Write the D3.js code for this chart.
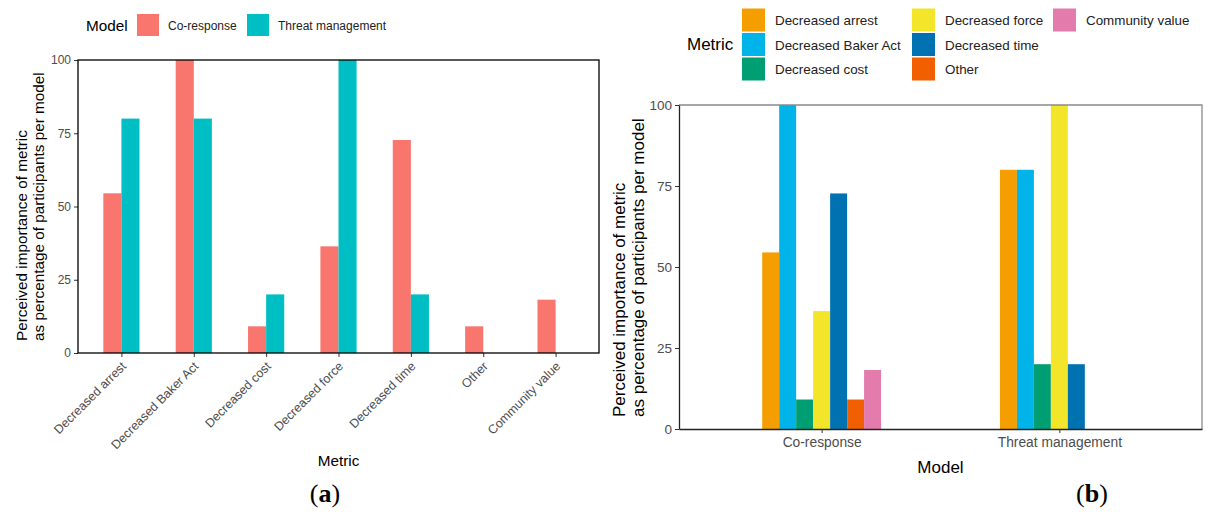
<!DOCTYPE html>
<html><head><meta charset="utf-8">
<script src="https://cdn.jsdelivr.net/npm/d3@7"></script>
<style>body{margin:0;background:#fff}svg{display:block;font-family:"Liberation Sans",Arial,sans-serif}</style>
</head><body><svg id="c" width="1212" height="516"></svg>
<script>
const metrics = ["Decreased arrest","Decreased Baker Act","Decreased cost","Decreased force","Decreased time","Other","Community value"];
const models = ["Co-response","Threat management"];
const coResponse = [54.5,100,9.1,36.4,72.7,9.1,18.2];
const threatManagement = [80,80,20,100,20,0,0];
const yTicks = [0,25,50,75,100];
const modelColors = ["#F8766D","#00BFC4"];
const metricColors = ["#F59E00","#00B4EA","#009F73","#F2E52A","#0072B2","#F25F00","#E37BAC"];

const valuesByModel = {"Co-response": coResponse, "Threat management": threatManagement};
const rows = [];
models.forEach((m) => metrics.forEach((k, i) => rows.push({model: m, metric: k, value: valuesByModel[m][i]})));

const svg = d3.select("#c");
const tickGray = "#4D4D4D";

// ---------- Panel (a) ----------
(function(){
  const L = 78, R = 599, T = 60, B = 353;
  const x = d3.scalePoint().domain(metrics).range([L, R]).padding(0.6);
  const step = x.step();
  const xi = d3.scaleBand().domain(models).range([-step*0.25, step*0.25]);
  const y = d3.scaleLinear().domain([0,100]).range([B, T]);
  const col = d3.scaleOrdinal().domain(models).range(modelColors);

  const g = svg.append("g");
  g.selectAll("rect.bar").data(rows).join("rect")
    .attr("x", d => x(d.metric) + xi(d.model))
    .attr("width", xi.bandwidth())
    .attr("y", d => y(d.value))
    .attr("height", d => B - y(d.value))
    .attr("fill", d => col(d.model));

  // y axis
  const ya = g.append("g").attr("transform", `translate(${L},0)`)
    .call(d3.axisLeft(y).tickValues(yTicks).tickSize(4).tickPadding(3));
  ya.select(".domain").remove();
  ya.selectAll("line").attr("stroke","#333");
  ya.selectAll("text").attr("fill", tickGray).style("font-size","12px");

  // x axis
  const xa = g.append("g").attr("transform", `translate(0,${B})`)
    .call(d3.axisBottom(x).tickSize(4).tickSizeOuter(0));
  xa.select(".domain").remove();
  xa.selectAll("line").attr("stroke","#333");
  xa.selectAll("text").attr("fill", tickGray).style("font-size","12.5px")
    .attr("text-anchor","end").attr("dy",null).attr("y",0)
    .attr("transform","translate(5,14) rotate(-45)");

  // border
  g.append("rect").attr("x",L).attr("y",T).attr("width",R-L).attr("height",B-T)
    .attr("fill","none").attr("stroke","#000").attr("stroke-width",1.3);

  // titles
  const yt = g.append("text").attr("transform",`translate(0,341) rotate(-90)`)
    .style("font-size","15.3px").attr("fill","#000");
  yt.append("tspan").attr("x",0).attr("y",27).text("Perceived importance of metric");
  yt.append("tspan").attr("x",0).attr("y",44).text("as percentage of participants per model");
  g.append("text").attr("x",(L+R)/2).attr("y",466).attr("text-anchor","middle")
    .style("font-size","15.3px").text("Metric");

  // legend
  const lg = g.append("g");
  lg.append("text").attr("x",86).attr("y",30.5).style("font-size","15.3px").text("Model");
  const lx = [137, 247];
  models.forEach((m, i) => {
    lg.append("rect").attr("x",lx[i]).attr("y",14).attr("width",22).attr("height",22).attr("fill",modelColors[i]);
    lg.append("text").attr("x",lx[i]+31).attr("y",29.5).style("font-size","12px").attr("fill","#222").text(m);
  });

  g.append("text").attr("x",325).attr("y",502).attr("text-anchor","middle")
    .style("font-family","'Liberation Serif','DejaVu Serif',serif").style("font-size","26px")
    .html('(<tspan font-weight="bold">a</tspan>)');
})();

// ---------- Panel (b) ----------
(function(){
  const L = 679, R = 1202, T = 105, B = 429;
  const x = d3.scalePoint().domain(models).range([L, R]).padding(0.6);
  const step = x.step();
  const xi = d3.scaleBand().domain(metrics).range([-step*0.25, step*0.25]);
  const y = d3.scaleLinear().domain([0,100]).range([B, T]);
  const col = d3.scaleOrdinal().domain(metrics).range(metricColors);

  const g = svg.append("g");
  g.selectAll("rect.bar").data(rows.filter(d => d.value > 0)).join("rect")
    .attr("x", d => x(d.model) + xi(d.metric))
    .attr("width", xi.bandwidth())
    .attr("y", d => y(d.value))
    .attr("height", d => B - y(d.value))
    .attr("fill", d => col(d.metric));

  // border (gray) top & right
  g.append("path").attr("d",`M${L},${T}H${R}V${B}`).attr("fill","none").attr("stroke","#8a8a8a").attr("stroke-width",1.3);

  const ya = g.append("g").attr("transform", `translate(${L},0)`)
    .call(d3.axisLeft(y).tickValues(yTicks).tickSize(4).tickPadding(3).tickSizeOuter(0));
  ya.select(".domain").attr("stroke","#222").attr("stroke-width",1.3);
  ya.selectAll("line").attr("stroke","#333");
  ya.selectAll("text").attr("fill", tickGray).style("font-size","13.5px");

  const xa = g.append("g").attr("transform", `translate(0,${B})`)
    .call(d3.axisBottom(x).tickSize(4).tickSizeOuter(0).tickPadding(4));
  xa.select(".domain").attr("stroke","#222").attr("stroke-width",1.3);
  xa.selectAll("line").attr("stroke","#333");
  xa.selectAll("text").attr("fill", tickGray).style("font-size","13.8px");

  const yt = g.append("text").attr("transform",`translate(0,417) rotate(-90)`)
    .style("font-size","17px").attr("fill","#000");
  yt.append("tspan").attr("x",0).attr("y",625).text("Perceived importance of metric");
  yt.append("tspan").attr("x",0).attr("y",644).text("as percentage of participants per model");
  g.append("text").attr("x",(L+R)/2).attr("y",473).attr("text-anchor","middle")
    .style("font-size","17px").text("Model");

  // legend
  const lg = g.append("g");
  lg.append("text").attr("x",687).attr("y",50).style("font-size","17px").text("Metric");
  const colX = [742, 912, 1053];
  const rowY = [8.5, 33, 57.5];
  metrics.forEach((m, i) => {
    const c = Math.floor(i/3), r = i % 3;
    lg.append("rect").attr("x",colX[c]).attr("y",rowY[r]).attr("width",23).attr("height",23).attr("fill",metricColors[i]);
    lg.append("text").attr("x",colX[c]+33).attr("y",rowY[r]+16.5).style("font-size","13.4px").attr("fill","#222").text(m);
  });

  g.append("text").attr("x",1092).attr("y",502).attr("text-anchor","middle")
    .style("font-family","'Liberation Serif','DejaVu Serif',serif").style("font-size","26px")
    .html('(<tspan font-weight="bold">b</tspan>)');
})();
</script></body></html>
